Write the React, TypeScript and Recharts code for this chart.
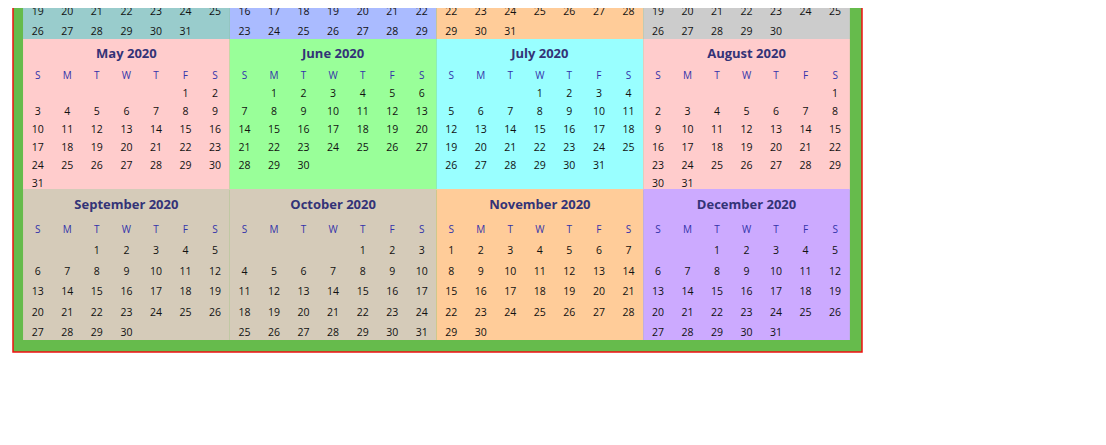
import { ScatterChart, Scatter, XAxis, YAxis, ReferenceArea } from "recharts"

const year = 2020
const monthNames = ["January", "February", "March", "April", "May", "June", "July", "August", "September", "October", "November", "December"]
const monthColors = ["#99cccc", "#aabbff", "#ffcc99", "#cccccc", "#ffcccc", "#99ff99", "#99ffff", "#ffcccc", "#d5cbb9", "#d5cbb9", "#ffcc99", "#ccaaff"]
const weekdayLabels = ["S", "M", "T", "W", "T", "F", "S"]

// layout of the three visible block rows (top one is scrolled off)
const blockTops = [-112, 39, 189]
const blockHeight = 151
const layout6 = { title: 14, header: 36, first: 54, step: 18 }
const layout5 = { title: 15, header: 40, first: 61, step: 20.5 }

type Pt = { x: number; y: number; label: string; kind: "title" | "head" | "day" }

const firstDay = (m: number) => new Date(year, m, 1).getDay()
const daysIn = (m: number) => new Date(year, m + 1, 0).getDate()
const weeksOf = (m: number) => Math.ceil((firstDay(m) + daysIn(m)) / 7)

const points: Pt[] = []
for (let m = 0; m < 12; m++) {
  const b = Math.floor(m / 4)
  const col = m % 4
  const rows = Math.max(...[0, 1, 2, 3].map((i) => weeksOf(b * 4 + i)))
  const L = rows >= 6 ? layout6 : layout5
  const top = blockTops[b]
  points.push({ x: col * 7 + 3.5, y: top + L.title, label: `${monthNames[m]} ${year}`, kind: "title" })
  weekdayLabels.forEach((w, i) => points.push({ x: col * 7 + i + 0.5, y: top + L.header, label: w, kind: "head" }))
  const f = firstDay(m)
  for (let d = 1; d <= daysIn(m); d++) {
    const idx = f + d - 1
    points.push({ x: col * 7 + (idx % 7) + 0.5, y: top + L.first + Math.floor(idx / 7) * L.step, label: String(d), kind: "day" })
  }
}

const Cell = (props: any) => {
  const { cx, cy, payload } = props
  const p = payload as Pt
  if (p.kind === "title")
    return <text x={cx} y={cy} textAnchor="middle" dominantBaseline="central" fontSize={13} fontWeight={700} fill="#333377">{p.label}</text>
  if (p.kind === "head")
    return <text x={cx} y={cy} textAnchor="middle" dominantBaseline="central" fontSize={10} fill="#3333aa">{p.label}</text>
  return <text x={cx} y={cy} textAnchor="middle" dominantBaseline="central" fontSize={10.5} fill="#111">{p.label}</text>
}

export default function App() {
  return (
    <div style={{ margin: -8, fontFamily: "'Open Sans', sans-serif" }}>
      <ScatterChart width={1106} height={445} margin={{ left: 13, right: 244, top: 0, bottom: 0 }}>
        <XAxis type="number" dataKey="x" domain={[-0.34, 28.41]} hide allowDataOverflow />
        <YAxis type="number" dataKey="y" domain={[0, 445]} reversed hide allowDataOverflow />
        <ReferenceArea x1={-0.34} x2={28.41} y1={-5} y2={352} fill="#66bb4c" fillOpacity={1} stroke="#ee1111" strokeWidth={1.5} ifOverflow="visible" />
        {monthColors.map((c, m) => (
          <ReferenceArea
            key={m}
            x1={(m % 4) * 7}
            x2={(m % 4) * 7 + 7}
            y1={blockTops[Math.floor(m / 4)]}
            y2={blockTops[Math.floor(m / 4)] + blockHeight}
            fill={c}
            fillOpacity={1}
            ifOverflow="visible"
          />
        ))}
        <Scatter data={points} shape={Cell} isAnimationActive={false} />
      </ScatterChart>
    </div>
  )
}
